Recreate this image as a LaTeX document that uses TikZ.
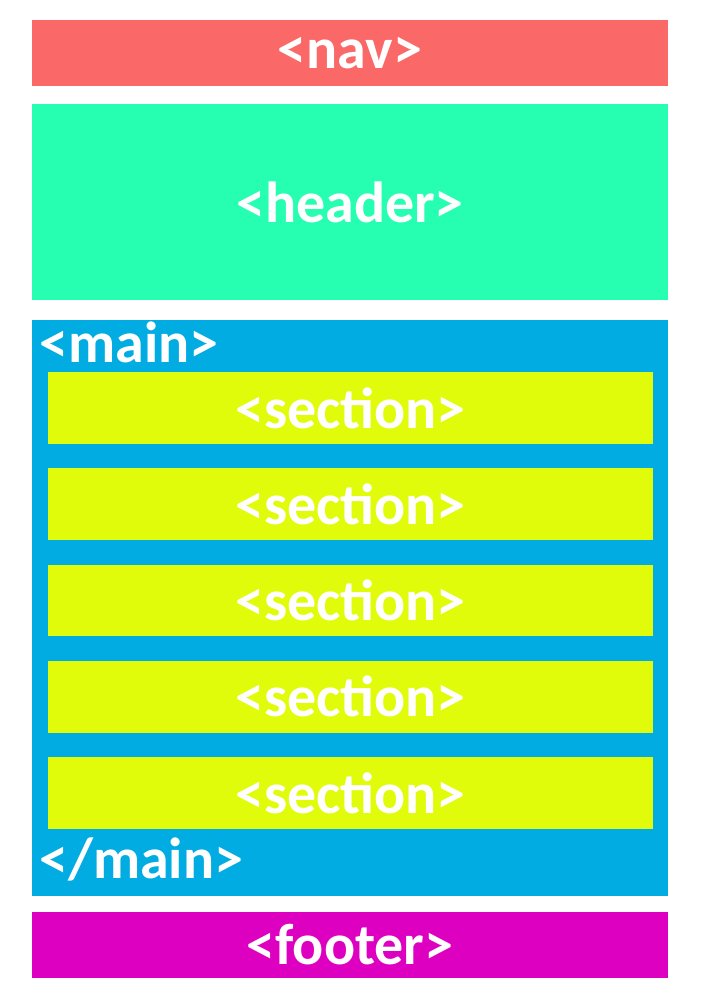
\documentclass[tikz,border=0pt]{standalone}
\usepackage{fontspec}
\setmainfont{Carlito}
\definecolor{navred}{RGB}{250,104,104}
\definecolor{headgreen}{RGB}{38,254,178}
\definecolor{mainblue}{RGB}{1,172,226}
\definecolor{secyellow}{RGB}{225,252,10}
\definecolor{footpink}{RGB}{222,0,192}
\tikzset{
  tagbox/.style={rectangle,inner sep=0pt,text=white,font=\bfseries\fontsize{33}{33}\selectfont},
  taglabel/.style={inner sep=0pt,text=white,font=\bfseries\fontsize{33}{33}\selectfont}
}

\begin{document}
\begin{tikzpicture}[x=0.02cm,y=-0.02cm]
\useasboundingbox[fill=white] (0,0) rectangle (700,1000);
\node[tagbox,fill=navred,minimum width=12.72cm,minimum height=1.32cm] (nav) at (350,53) {<nav>};
\node[tagbox,fill=headgreen,minimum width=12.72cm,minimum height=3.92cm] (header) at (350,202) {<header>};
\node[tagbox,fill=mainblue,minimum width=12.72cm,minimum height=11.52cm] (main) at (350,608) {};
\node[taglabel,anchor=base west] (mainopen) at (39,362) {<main>};
\foreach \i in {0,...,4}
  \node[tagbox,fill=secyellow,minimum width=12.1cm,minimum height=1.44cm] (sec\i) at (350.5,408+96.25*\i) {<section>};
\node[taglabel,anchor=base west] (mainclose) at (39,878) {</main>};
\node[tagbox,fill=footpink,minimum width=12.72cm,minimum height=1.32cm] (footer) at (350,945) {<footer>};
\end{tikzpicture}
\end{document}
